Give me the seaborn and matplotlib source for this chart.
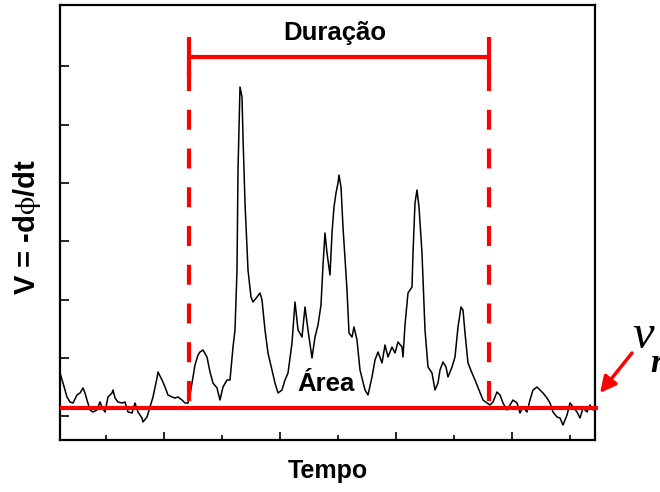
import numpy as np
import pandas as pd
import seaborn as sns
import matplotlib
matplotlib.use("Agg")
import matplotlib.pyplot as plt

# ---- data (time in arbitrary units, signal relative to the baseline v_r) ----
time = [0, 3, 7, 10, 13, 17, 20, 23, 25, 27, 30, 33, 37, 40, 42, 45, 48, 52, 53, 55,
        58, 62, 65, 68, 72, 75, 78, 82, 83, 87, 90, 93, 97, 98, 102, 105, 108, 112, 115, 118,
        122, 125, 128, 130, 132, 135, 138, 140, 143, 147, 150, 153, 157, 160, 163, 167, 170, 173, 175, 177,
        178, 180, 182, 183, 185, 188, 191, 193, 197, 200, 202, 205, 208, 212, 215, 218, 222, 225, 228, 232,
        235, 238, 242, 245, 248, 252, 255, 258, 261, 263, 265, 267, 270, 272, 274, 276, 278, 279, 281, 283,
        287, 289, 292, 294, 297, 300, 305, 308, 312, 315, 318, 322, 325, 328, 332, 335, 338, 342, 343, 345,
        348, 352, 353, 355, 357, 359, 362, 365, 368, 372, 375, 378, 380, 383, 386, 388, 392, 395, 398, 401,
        403, 405, 408, 412, 415, 419, 423, 427, 430, 433, 437, 440, 443, 447, 450, 453, 457, 460, 463, 467,
        470, 473, 477, 480, 483, 487, 490, 493, 497, 500, 503, 507, 510, 513, 517, 520, 523, 527, 530, 533]
signal = [35, 25, 11, 6, 5, 13, 15, 20, 15, 8, -2, -4, -2, 6, 1, -4, 11, 15, 18, 10,
          6, 5, 6, -4, -5, 5, -4, -10, -14, -9, 1, 11, 30, 36, 28, 21, 13, 11, 10, 11,
          8, 5, 5, 13, 25, 43, 53, 56, 58, 51, 36, 25, 20, 8, 21, 28, 28, 61, 78, 138,
          238, 321, 311, 271, 205, 138, 111, 106, 111, 115, 108, 78, 55, 38, 25, 15, 18, 28, 35, 65,
          106, 78, 71, 101, 78, 50, 71, 83, 103, 143, 175, 155, 133, 175, 201, 215, 225, 233, 221, 181,
          118, 75, 71, 81, 68, 38, 18, 13, 31, 48, 56, 45, 63, 51, 61, 55, 66, 61, 51, 83,
          115, 121, 155, 205, 218, 201, 155, 78, 41, 35, 18, 25, 38, 46, 41, 31, 41, 51, 81, 101,
          98, 75, 45, 35, 28, 18, 8, 5, 3, 6, 16, 13, 5, -2, 3, 8, 5, -5, 1, -4,
          8, 18, 21, 18, 15, 10, 5, -4, -9, -10, -17, -7, 5, 1, -4, -10, 0, -4, 3, -2]

event_start, event_end = 129, 429
x_major = [104, 220, 336, 452]
x_minor = [46, 162, 278, 394, 510]
y_ticks = [-8, 50, 108, 167, 225, 283, 342]

RED = "#ff0000"

sns.set_style("ticks")
plt.rcParams["font.family"] = ["Liberation Sans", "DejaVu Sans"]
plt.rcParams["text.color"] = "black"
plt.rcParams["axes.labelcolor"] = "black"
plt.rcParams["mathtext.fontset"] = "stix"

fig = plt.figure(figsize=(6.6, 4.92), dpi=100)
ax = fig.add_axes([60 / 660, 52 / 492, 535 / 660, 435 / 492])

df = pd.DataFrame({"Tempo": time, "V": signal})
sns.lineplot(data=df, x="Tempo", y="V", ax=ax, color="black", lw=1.1, zorder=3)

# baseline v_r
ax.plot([0, 538], [0, 0], color=RED, lw=3, solid_capstyle="butt", clip_on=False, zorder=4)

# dashed event limits
for xv in (event_start, event_end):
    ax.plot([xv, xv], [337, 0], color=RED, lw=3, dashes=(4.8, 4.5), zorder=4)
    ax.plot([xv, xv], [331, 371], color=RED, lw=3, solid_capstyle="butt", zorder=4)
ax.plot([event_start, event_end], [351, 351], color=RED, lw=3, solid_capstyle="butt", zorder=4)

ax.text((event_start + event_end) / 2 - 4, 375, "Duração", ha="center", va="center",
        fontsize=18.5, fontweight="bold")
ax.text(266, 24, "Área", ha="center", va="center", fontsize=18.5, fontweight="bold", zorder=5)

# v_r arrow and label
ax.annotate("", xy=(540, 15), xytext=(572, 55), annotation_clip=False,
            arrowprops=dict(arrowstyle="-|>", color=RED, lw=2.5, mutation_scale=24,
                            shrinkA=0, shrinkB=0))
ax.text(572, 60, "ν", fontsize=35, family="Liberation Serif", style="italic",
        ha="left", va="baseline", clip_on=False)
ax.text(590, 36, "r", fontsize=24, family="Liberation Serif", style="italic",
        fontweight="bold", ha="left", va="baseline", clip_on=False)

ax.set_xlim(0, 535)
ax.set_ylim(-32, 403)
ax.set_xticks(x_major)
ax.set_xticks(x_minor, minor=True)
ax.set_yticks(y_ticks)
ax.set_xticklabels([])
ax.set_yticklabels([])
ax.tick_params(axis="both", which="major", direction="in", length=6.5, width=1.2,
               top=False, right=False, color="black")
ax.tick_params(axis="x", which="major", length=6)
ax.tick_params(axis="x", which="minor", direction="in", length=3.8, width=1.2, top=False,
               color="black")
ax.tick_params(axis="y", which="minor", left=False, right=False)
for s in ax.spines.values():
    s.set_linewidth(1.6)
    s.set_color("black")
    s.set_visible(True)

ax.set_xlabel("")
ax.set_ylabel("")
ax.text(0.501, -0.072, "Tempo", transform=ax.transAxes, ha="center", va="center",
        fontsize=18, fontweight="bold")
ax.text(-0.062, 0.49, r"V = -d$\mathrm{\phi}$/dt", transform=ax.transAxes, ha="center",
        va="center", rotation=90, fontsize=21, fontweight="bold")

fig.savefig("out.png", dpi=100)
